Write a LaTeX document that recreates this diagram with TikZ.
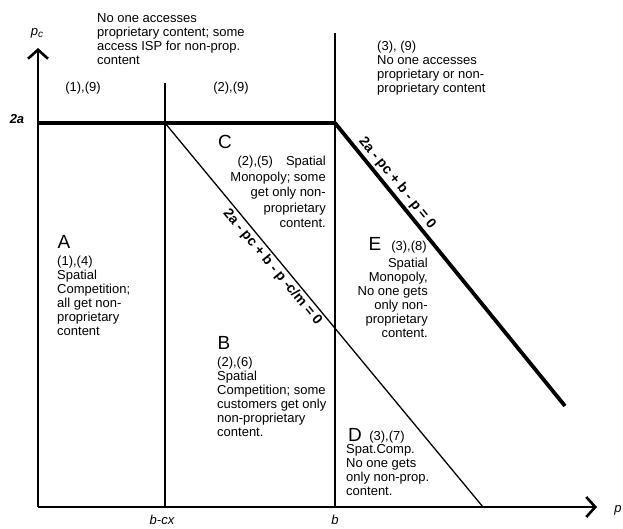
\documentclass[tikz,border=0pt]{standalone}
\usepackage{fontspec}
\setmainfont{Liberation Sans}
\usetikzlibrary{arrows.meta, positioning, calc}

\begin{document}
\begin{tikzpicture}[x=1pt, y=-1pt]
	\tikzset{axis/.style={line width=2.6pt, -{Straight Barb[length=9pt, width=20pt, line width=2.6pt]}}}
	\tikzset{bound/.style={line width=1.4pt}}
	\tikzset{heavy/.style={line width=3.8pt}}
	\tikzset{txt/.style={font=\fontsize{13}{14}\selectfont, align=left, inner sep=0pt}}
	\tikzset{region/.style={font=\fontsize{19}{19}\selectfont, inner sep=0pt}}
	\tikzset{axlabel/.style={font=\fontsize{13}{13}\selectfont\itshape, inner sep=0pt}}
	\tikzset{eqlabel/.style={font=\fontsize{14}{14}\selectfont\bfseries, sloped, inner sep=2pt}}

	\useasboundingbox (0,0) rectangle (623,529);

	\coordinate (o) at (38,507);
	\coordinate (ytop) at (38,48);
	\coordinate (xend) at (597,507);
	\coordinate (a2) at (38,123);
	\coordinate (bcx) at (165,507);
	\coordinate (bcxtop) at (165,83);
	\coordinate (bcx2a) at (165,123);
	\coordinate (b) at (335,507);
	\coordinate (btop) at (335,33);
	\coordinate (b2a) at (335,123);
	\coordinate (thinend) at (483,507);
	\coordinate (thickend) at (565,406);

	\draw[bound] (bcx) -- (bcxtop);
	\draw[bound] (b) -- (btop);
	\draw[line width=1.3pt] (bcx2a) -- node[eqlabel, below, pos=0.36]{2a - pc + b - p -c/m = 0} (thinend);
	\draw[heavy] (a2) -- (b2a);
	\draw[heavy] (b2a) -- node[eqlabel, above, pos=0.235]{2a - pc + b - p = 0} (thickend);
	\draw[axis] (o) -- (ytop);
	\draw[axis] (o) -- (xend);

	% axis labels
	\node (pc) [axlabel] at (37,33) {p\raisebox{-0.35ex}{\fontsize{10}{10}\selectfont c}};
	\node (px) [axlabel] at (618,510) {p};
	\node (lbl2a) [axlabel, font=\fontsize{13}{13}\selectfont\itshape\bfseries] at (17,119) {2a};
	\node (lblbcx) [axlabel] at (162,520) {b-cx};
	\node (lblb) [axlabel] at (335,520) {b};

	% top row
	\node (hdr) [txt, anchor=north west] at (97,13) {No one accesses\\proprietary content; some\\access ISP for non-prop.\\content};
	\node (r19) [txt] at (83,88) {(1),(9)};
	\node (r29) [txt] at (231,88) {(2),(9)};
	\node (r39) [txt, anchor=north west] at (377,41) {(3), (9)\\No one accesses\\proprietary or non-\\proprietary content};

	% regions
	\node (regA) [region] at (64,242) {A};
	\node (txtA) [txt, anchor=north west] at (57,256) {(1),(4)\\Spatial\\Competition;\\all get non-\\proprietary\\content};
	\node (regB) [region] at (224,343) {B};
	\node (txtB) [txt, anchor=north west] at (217,357) {(2),(6)\\Spatial\\Competition; some\\customers get only\\non-proprietary\\content.};
	\node (regC) [region] at (225,142) {C};
	\node (txtC) [txt, anchor=north east, align=right, font=\fontsize{13}{15.5}\selectfont] at (326,156) {(2),(5)\quad Spatial\\Monopoly; some\\get only non-\\proprietary\\content.};
	\node (regD) [region] at (355,435) {D};
	\node (r37) [txt] at (387,437) {(3),(7)};
	\node (txtD) [txt, anchor=north west] at (346,444) {Spat.Comp.\\No one gets\\only non-prop.\\content.};
	\node (regE) [region] at (375,244) {E};
	\node (r38) [txt] at (409,247) {(3),(8)};
	\node (txtE) [txt, anchor=north east, align=right] at (428,258) {Spatial\\Monopoly,\\No one gets\\only non-\\proprietary\\content.};
\end{tikzpicture}
\end{document}
